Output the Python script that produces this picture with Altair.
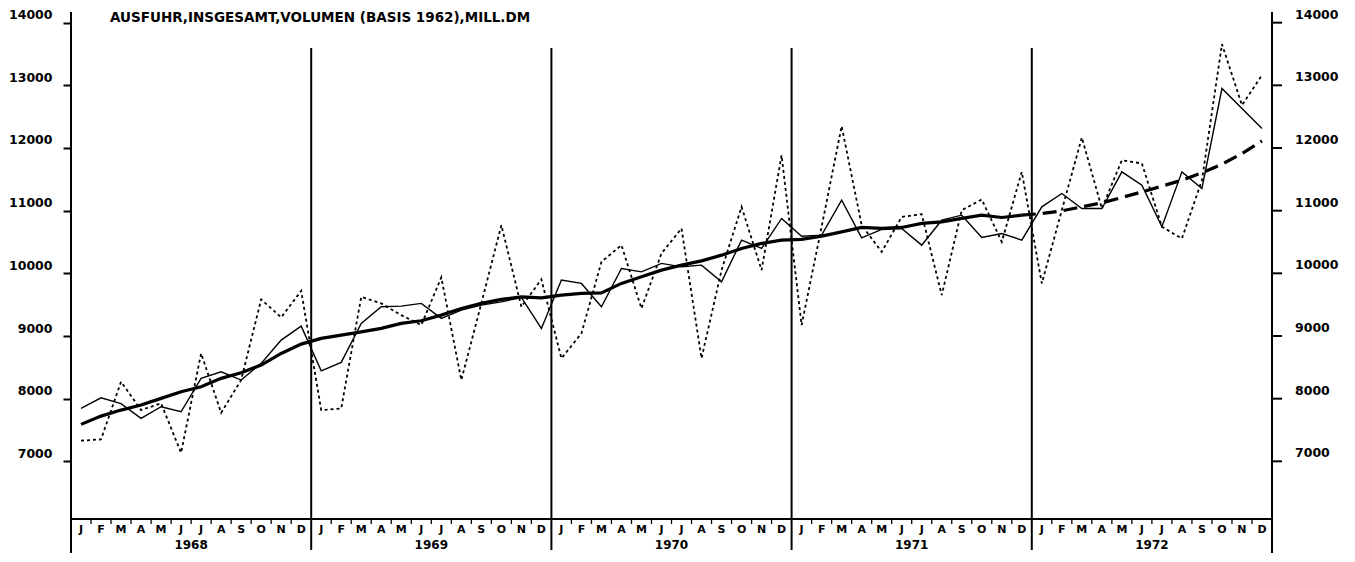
import altair as alt
import pandas as pd

# ---------------- data ----------------
years = [1968, 1969, 1970, 1971, 1972]
month_letters = ["J", "F", "M", "A", "M", "J", "J", "A", "S", "O", "N", "D"]
title_text = "AUSFUHR,INSGESAMT,VOLUMEN (BASIS 1962),MILL.DM"
y_ticks = [7000, 8000, 9000, 10000, 11000, 12000, 13000, 14000]

# unadjusted monthly values (dotted line)
original = [
    7329, 7351, 8270, 7818, 7925, 7137, 8722, 7775, 8297, 9584, 9297, 9721,
    7818, 7845, 9625, 9520, 9333, 9174, 9935, 8297, 9520, 10769, 9466, 9903,
    8643, 9041, 10183, 10450, 9440, 10318, 10716, 8643, 10051, 11061, 10051, 11885,
    9174, 10743, 12348, 10769, 10343, 10900, 10944, 9652, 11008, 11179, 10502, 11619,
    9839, 11008, 12167, 11035, 11806, 11753, 10743, 10556, 11486, 13657, 12684, 13163,
]
# seasonally adjusted (thin solid line)
adjusted = [
    7845, 8014, 7920, 7686, 7871, 7791, 8324, 8429, 8297, 8563, 8935, 9158,
    8445, 8579, 9201, 9466, 9477, 9520, 9281, 9413, 9493, 9545, 9615, 9121,
    9892, 9839, 9466, 10078, 10024, 10158, 10104, 10131, 9864, 10530, 10397, 10876,
    10593, 10609, 11167, 10566, 10700, 10716, 10450, 10848, 10928, 10573, 10636, 10530,
    11061, 11274, 11035, 11035, 11619, 11406, 10743, 11619, 11354, 12949, 12630, 12311,
]
# trend component 1968-1971 (thick solid line)
trend = [
    7590, 7722, 7818, 7898, 8005, 8110, 8190, 8324, 8413, 8536, 8722, 8871,
    8962, 9014, 9067, 9121, 9201, 9243, 9333, 9440, 9520, 9584, 9625, 9609,
    9652, 9679, 9689, 9839, 9944, 10051, 10131, 10199, 10290, 10397, 10477, 10530,
    10541, 10593, 10662, 10732, 10716, 10732, 10796, 10821, 10876, 10928, 10891, 10928,
]
# trend 1972 (thick dashed line)
forecast = [10955, 10997, 11061, 11125, 11210, 11300, 11391, 11486, 11603, 11742, 11912, 12113]

# ---------------- tables ----------------
n_months = len(years) * 12
t_all = [i + 0.5 for i in range(n_months)]

df_orig = pd.DataFrame({"t": t_all, "v": original})
df_adj = pd.DataFrame({"t": t_all, "v": adjusted})
df_trend = pd.DataFrame({"t": t_all[: len(trend)], "v": trend})
df_fore = pd.DataFrame({"t": [t_all[len(trend) - 1]] + t_all[len(trend):],
                        "v": [trend[-1]] + forecast})

df_months = pd.DataFrame({"t": t_all, "m": month_letters * len(years)})
df_years = pd.DataFrame({"t": [i * 12 + 6 for i in range(len(years))],
                         "y": [str(y) for y in years]})
df_month_ticks = pd.DataFrame({"b": [b for b in range(1, n_months) if b % 12 != 0]})
df_year_sep = pd.DataFrame({"b": [b for b in range(12, n_months, 12)]})
df_border = pd.DataFrame({"b": [0, n_months]})
df_yt = pd.DataFrame({"v": y_ticks, "lab": [str(v) for v in y_ticks]})
df_title = pd.DataFrame({"txt": [title_text]})

# ---------------- layout ----------------
W, H = 1201, 507
FONT = "DejaVu Sans"

xs = alt.Scale(domain=[0, n_months], nice=False, zero=False)
ys = alt.Scale(domain=[6080, 14170], nice=False, zero=False)
yaxis = alt.Axis(values=y_ticks, format="d", domain=False, grid=False,
                 tickSize=8, tickWidth=2, tickColor="black",
                 labelFont=FONT, labelFontWeight="bold", labelFontSize=12.5,
                 labelColor="black", labelPadding=11, labelOffset=-8, title=None)


def X(f="t"):
    return alt.X(f + ":Q", scale=xs, axis=None)


def Y():
    return alt.Y("v:Q", scale=ys, axis=yaxis)


line_orig = alt.Chart(df_orig).mark_line(color="black", strokeWidth=1.8,
                                         strokeDash=[3, 3]).encode(x=X(), y=Y())
line_adj = alt.Chart(df_adj).mark_line(color="black", strokeWidth=1.4).encode(x=X(), y=Y())
line_trend = alt.Chart(df_trend).mark_line(color="black", strokeWidth=3.2).encode(x=X(), y=Y())
line_fore = alt.Chart(df_fore).mark_line(color="black", strokeWidth=3.2,
                                         strokeDash=[14, 7]).encode(x=X(), y=Y())

x_line = alt.Chart(df_title).mark_rule(color="black", strokeWidth=2).encode(
    x=alt.value(0), x2=alt.value(W), y=alt.value(H))
month_ticks = alt.Chart(df_month_ticks).mark_rule(color="black", strokeWidth=1.3).encode(
    x=X("b"), y=alt.value(H), y2=alt.value(H + 5))
year_sep = alt.Chart(df_year_sep).mark_rule(color="black", strokeWidth=2).encode(
    x=X("b"), y=alt.value(36), y2=alt.value(H + 31))
borders = alt.Chart(df_border).mark_rule(color="black", strokeWidth=2).encode(
    x=X("b"), y=alt.value(0), y2=alt.value(H + 34))

month_labels = alt.Chart(df_months).mark_text(
    font=FONT, fontWeight="bold", fontSize=11, color="black",
    align="center", baseline="middle").encode(x=X(), y=alt.value(H + 11), text="m:N")
year_labels = alt.Chart(df_years).mark_text(
    font=FONT, fontWeight="bold", fontSize=12, color="black",
    align="center", baseline="middle").encode(x=X(), y=alt.value(H + 26), text="y:N")

right_ticks = alt.Chart(df_yt).mark_rule(color="black", strokeWidth=2).encode(
    x=alt.value(W), x2=alt.value(W + 10), y=Y())
right_labels = alt.Chart(df_yt).mark_text(
    font=FONT, fontWeight="bold", fontSize=12.5, color="black",
    align="left", baseline="middle", dy=-8).encode(x=alt.value(W + 23), y=Y(), text="lab:N")

title = alt.Chart(df_title).mark_text(
    font=FONT, fontWeight="bold", fontSize=13.5, color="black",
    align="left", baseline="top").encode(x=alt.value(39), y=alt.value(-1), text="txt:N")

chart = alt.layer(
    line_orig, line_adj, line_trend, line_fore,
    x_line, month_ticks, year_sep, borders,
    month_labels, year_labels, right_ticks, right_labels, title,
).properties(
    width=W, height=H,
    autosize=alt.AutoSizeParams(type="none"),
    padding={"left": 63, "top": 4, "right": 68, "bottom": 34},
    background="white",
).configure_view(stroke=None)

chart.save("out.html", embed_options={"renderer": "svg", "actions": False})
